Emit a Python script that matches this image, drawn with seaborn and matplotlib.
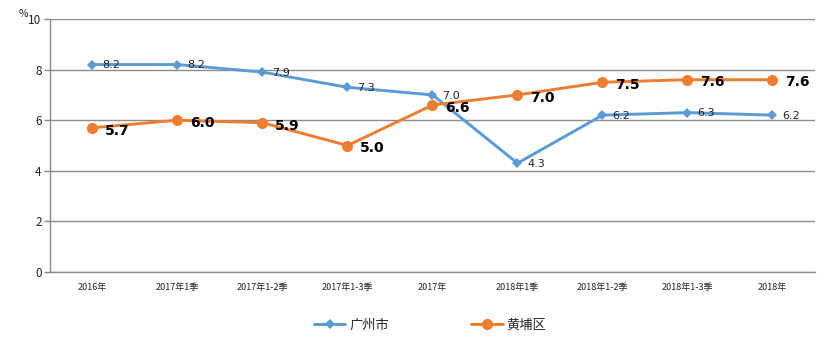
import matplotlib
matplotlib.use("Agg")
import matplotlib.pyplot as plt
import seaborn as sns
import pandas as pd
from matplotlib.lines import Line2D

categories = ["2016年", "2017年1季", "2017年1-2季", "2017年1-3季", "2017年",
              "2018年1季", "2018年1-2季", "2018年1-3季", "2018年"]
guangzhou = [8.2, 8.2, 7.9, 7.3, 7.0, 4.3, 6.2, 6.3, 6.2]
huangpu = [5.7, 6.0, 5.9, 5.0, 6.6, 7.0, 7.5, 7.6, 7.6]
series_names = ["广州市", "黄埔区"]
yticks = [0, 2, 4, 6, 8, 10]

sns.set_theme(style="white")
plt.rcParams['font.family'] = ['Noto Sans CJK SC', 'DejaVu Sans']

blue = "#5B9BD5"
orange = "#ED7D31"

df = pd.DataFrame({
    "cat": categories * 2,
    "x": list(range(len(categories))) * 2,
    "value": guangzhou + huangpu,
    "series": [series_names[0]] * len(categories) + [series_names[1]] * len(categories),
})

fig = plt.figure(figsize=(8.28, 3.43), dpi=100)
ax = fig.add_axes([50 / 828, 1 - 272 / 343, 765 / 828, 253 / 343])

sns.lineplot(data=df, x="x", y="value", hue="series", style="series",
             palette=[blue, orange], markers={"广州市": "D", "黄埔区": "o"},
             dashes=False, linewidth=2.1, markeredgewidth=0, ax=ax, legend=False)
for line, ms in zip(ax.lines, [5.5, 8]):
    line.set_markersize(ms)

for i, v in enumerate(guangzhou):
    ax.annotate(f"{v:.1f}", (i, v), xytext=(7, -0.5), textcoords="offset points",
                ha="left", va="center", fontsize=8, color="#222222", family="DejaVu Sans")
for i, v in enumerate(huangpu):
    ax.annotate(f"{v:.1f}", (i, v), xytext=(9, -2), textcoords="offset points",
                ha="left", va="center", fontsize=10, fontweight="bold", color="black",
                family="DejaVu Sans")

ax.set_xlim(-0.5, len(categories) - 0.5)
ax.set_ylim(0, 10)
ax.set_yticks(yticks)
ax.set_xticks(range(len(categories)))
ax.set_xticklabels(categories, fontsize=6.5)
ax.tick_params(axis="y", labelsize=8.5, length=4, color="#888888", width=1, left=True, pad=2, labelcolor="#222222")
ax.tick_params(axis="x", length=0, pad=8, labelcolor="#222222")
ax.yaxis.grid(True, color="#8c8c8c", linewidth=1)
ax.set_axisbelow(True)
for s in ["top", "right"]:
    ax.spines[s].set_visible(False)
for s in ["left", "bottom"]:
    ax.spines[s].set_color("#8c8c8c")
    ax.spines[s].set_linewidth(1)
ax.set_xlabel("")
ax.set_ylabel("")

fig.text(19 / 828, 1 - 14 / 343, "%", fontsize=7.5, ha="left", va="center", color="#222222")

handles = [Line2D([], [], color=blue, marker="D", markersize=5.5, markeredgewidth=0, linewidth=2.1),
           Line2D([], [], color=orange, marker="o", markersize=8, markeredgewidth=0, linewidth=2.1)]
fig.legend(handles, series_names, loc="center", bbox_to_anchor=(430 / 828, 1 - 325 / 343),
           ncol=2, frameon=False, fontsize=9.5, handlelength=2.4, handletextpad=0.3,
           columnspacing=6.2)

fig.savefig("out.png", dpi=100)
